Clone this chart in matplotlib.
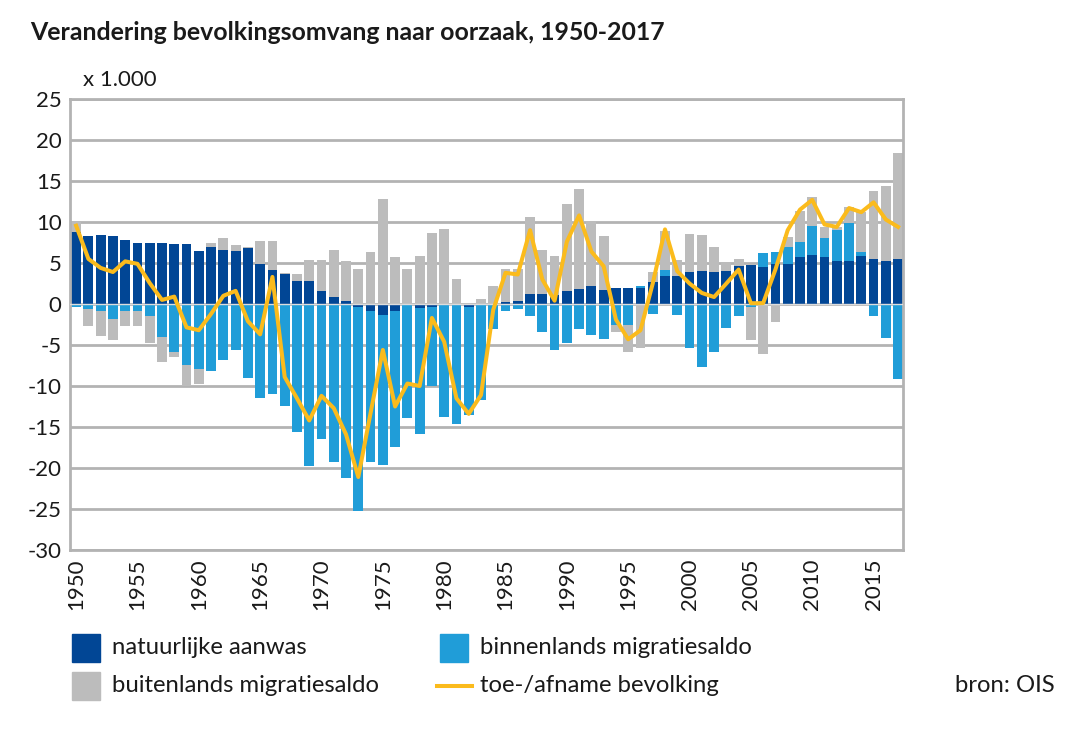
import numpy as np
import matplotlib
matplotlib.use('Agg')
import matplotlib.pyplot as plt
from matplotlib.patches import Rectangle
from matplotlib.lines import Line2D

plt.rcParams['font.family'] = ['Lato', 'DejaVu Sans']
plt.rcParams['axes.unicode_minus'] = False

# jaren en componenten (x 1.000)
years = np.arange(1950, 2018)

natuurlijk = [8.8, 8.25, 8.4, 8.25, 7.85, 7.5, 7.5, 7.5, 7.35, 7.35,
              6.45, 6.95, 6.6, 6.45, 6.8, 4.85, 4.1, 3.6, 2.75, 2.75,
              1.6, 0.9, 0.4, -0.4, -0.8, -1.3, -0.9, -0.1, -0.5, -0.35,
              0.0, 0.0, -0.35, 0.0, 0.0, 0.2, 0.4, 1.2, 1.2, 1.1,
              1.6, 1.8, 2.15, 1.65, 2.0, 1.9, 2.0, 2.7, 3.4, 3.4,
              3.9, 4.05, 3.95, 4.05, 4.6, 4.7, 4.5, 4.85, 4.85, 5.7,
              6.0, 5.7, 5.3, 5.3, 5.9, 5.5, 5.3, 5.5]

binnenlands = [-0.4, -0.6, -0.9, -1.8, -0.9, -0.8, -1.5, -4.0, -5.85, -7.45,
               -7.9, -8.15, -6.8, -5.55, -9.05, -11.5, -11.0, -12.4, -15.6, -19.8,
               -16.5, -19.3, -21.2, -24.8, -18.5, -18.3, -16.5, -13.8, -15.35, -9.7,
               -13.8, -14.65, -13.15, -11.7, -3.0, -0.8, -0.6, -1.5, -3.45, -5.55,
               -4.8, -3.1, -3.8, -4.3, -2.5, -2.5, 0.2, -1.2, 0.7, -1.35,
               -5.35, -7.7, -5.85, -2.9, -1.5, -0.35, 1.7, 1.55, 2.05, 1.9,
               3.55, 2.3, 3.75, 4.6, 0.5, -1.5, -4.1, -9.1]

buitenlands = [1.2, -2.1, -3.05, -2.6, -1.8, -1.9, -3.25, -3.1, -0.6, -2.55,
               -1.8, 0.55, 1.4, 0.7, 0.2, 2.85, 3.6, 0.15, 0.85, 2.65,
               3.8, 5.7, 4.8, 4.3, 6.4, 12.75, 5.7, 4.3, 5.9, 8.6,
               9.1, 3.1, 0.0, 0.6, 2.2, 4.1, 3.9, 9.45, 5.4, 4.8,
               10.6, 12.2, 7.95, 6.65, -0.9, -3.35, -5.4, 1.2, 4.8, 2.0,
               4.65, 4.35, 3.0, 1.1, 0.9, -4.0, -6.1, -2.2, 1.3, 3.8,
               3.5, 1.4, 0.3, 1.9, 4.8, 8.3, 9.05, 12.9]

totaal = [9.55, 5.5, 4.4, 3.9, 5.2, 4.9, 2.55, 0.5, 0.9, -2.85,
          -3.2, -1.2, 1.0, 1.6, -2.1, -3.7, 3.3, -8.9, -11.5, -14.2,
          -11.2, -12.7, -15.9, -21.1, -13.3, -5.6, -12.5, -9.7, -10.0, -1.7,
          -4.6, -11.5, -13.4, -11.1, -0.7, 3.8, 3.6, 9.0, 3.0, 0.4,
          7.6, 10.8, 6.4, 4.6, -1.9, -4.3, -3.2, 2.5, 9.1, 4.0,
          2.5, 1.35, 0.85, 2.5, 4.2, 0.1, 0.1, 4.2, 9.0, 11.5,
          12.7, 9.7, 9.4, 11.7, 11.2, 12.4, 10.3, 9.4]

labels = ['natuurlijke aanwas', 'binnenlands migratiesaldo',
          'buitenlands migratiesaldo', 'toe-/afname bevolking']
colors = ['#014695', '#209dd8', '#bcbcbc']
line_color = '#fbbb1c'
grid_color = '#b3b3b3'

fig = plt.figure(figsize=(10.87, 7.4), dpi=100)
ax = fig.add_axes([70 / 1087, 1 - 550 / 740, 833 / 1087, 451 / 740])

pos_bottom = np.zeros(len(years))
neg_bottom = np.zeros(len(years))
for vals, c in zip([natuurlijk, binnenlands, buitenlands], colors):
    vals = np.array(vals)
    bottom = np.where(vals >= 0, pos_bottom, neg_bottom)
    ax.bar(years, vals, bottom=bottom, width=0.8, color=c, zorder=2)
    pos_bottom = pos_bottom + np.clip(vals, 0, None)
    neg_bottom = neg_bottom + np.clip(vals, None, 0)

ax.axhline(0, color='#dddddd', lw=1, zorder=3)
ax.plot(years, totaal, color=line_color, lw=2.9, zorder=4, solid_joinstyle='round')

ax.set_xlim(1949.5, 2017.4)
ax.set_ylim(-30, 25)
ax.set_yticks(np.arange(-30, 26, 5))
ax.set_xticks(np.arange(1950, 2017, 5))
ax.set_xticklabels([str(y) for y in range(1950, 2017, 5)], rotation=90)
ax.tick_params(length=0, labelsize=16, colors='#1a1a1a', pad=6)
ax.grid(axis='y', color=grid_color, lw=2, zorder=0)
for s in ax.spines.values():
    s.set_color(grid_color)
    s.set_linewidth(2)

fig.text(30 / 1087, 1 - 32 / 740, 'Verandering bevolkingsomvang naar oorzaak, 1950-2017',
         fontsize=17.9, fontweight='bold', va='center', ha='left', color='#1a1a1a')
fig.text(83 / 1087, 1 - 80 / 740, 'x 1.000', fontsize=16, va='center', ha='left',
         color='#1a1a1a')

# legenda
W, H = 1087, 740
legend_items = [(72, 648, 'patch', colors[0], labels[0]),
                (440, 648, 'patch', colors[1], labels[1]),
                (72, 686, 'patch', colors[2], labels[2]),
                (440, 686, 'line', line_color, labels[3])]
for x, y, kind, c, lab in legend_items:
    if kind == 'patch':
        fig.patches.append(Rectangle((x / W, 1 - (y + 14) / H), 28 / W, 28 / H,
                                     transform=fig.transFigure, color=c))
    else:
        fig.lines.append(Line2D([(x - 3) / W, (x + 32) / W], [1 - y / H, 1 - y / H],
                                transform=fig.transFigure, color=c, lw=2.9))
    fig.text((x + 40) / W, 1 - y / H, lab, fontsize=17.2, va='center', ha='left',
             color='#1a1a1a')

fig.text(1055 / W, 1 - 686 / H, 'bron: OIS', fontsize=17.2, va='center', ha='right',
         color='#1a1a1a')

fig.savefig('out.png', dpi=100)
